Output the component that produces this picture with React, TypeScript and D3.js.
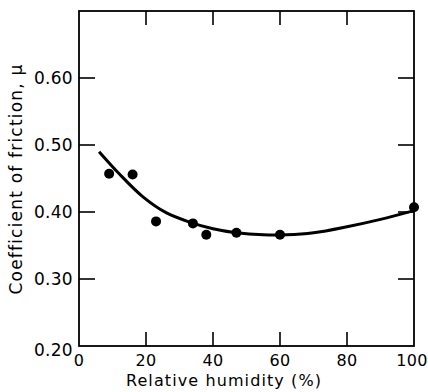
import React from "react";
import * as d3 from "d3";

const humidity = [9, 16, 23, 34, 38, 47, 60, 100];
const friction = [0.457, 0.456, 0.386, 0.383, 0.366, 0.369, 0.366, 0.407];

const curveHumidity = [6, 12, 19, 26, 33, 40, 47, 55, 62, 70, 80, 90, 100];
const curveFriction = [0.49, 0.457, 0.423, 0.399, 0.385, 0.375, 0.369, 0.366, 0.366, 0.369, 0.378, 0.389, 0.402];

const xTicks = [0, 20, 40, 60, 80, 100];
const yTicks = [0.2, 0.3, 0.4, 0.5, 0.6];

const W = 428;
const H = 392;
const left = 79, right = 414, top = 11, bottom = 346;

export default function App() {
  const x = d3.scaleLinear().domain([0, 100]).range([left, right]);
  const y = d3.scaleLinear().domain([0.2, 0.7]).range([bottom, top]);
  const line = d3
    .line<number>()
    .x((_, i) => x(curveHumidity[i]))
    .y((d) => y(d))
    .curve(d3.curveCatmullRom.alpha(0.5));
  const font = "'DejaVu Sans', sans-serif";
  const tl = 14;
  return (
    <svg width={W} height={H} style={{ position: "absolute", left: 0, top: 0, background: "#fff" }} fontFamily={font}>
      <rect x={left} y={top} width={right - left} height={bottom - top} fill="none" stroke="#000" strokeWidth={1.8} />
      {xTicks.filter((t) => t > 0 && t < 100).map((t) => (
        <g key={"xt" + t}>
          <line x1={x(t)} x2={x(t)} y1={bottom} y2={bottom - tl} stroke="#000" strokeWidth={1.6} />
          <line x1={x(t)} x2={x(t)} y1={top} y2={top + tl} stroke="#000" strokeWidth={1.6} />
        </g>
      ))}
      {yTicks.filter((t) => t > 0.2).map((t) => (
        <g key={"yt" + t}>
          <line x1={left} x2={left + 16} y1={y(t)} y2={y(t)} stroke="#000" strokeWidth={1.6} />
          <line x1={right} x2={right - 16} y1={y(t)} y2={y(t)} stroke="#000" strokeWidth={1.6} />
        </g>
      ))}
      {xTicks.map((t) => (
        <text key={"xl" + t} x={t === 100 ? x(t) - 2 : x(t)} y={366} fontSize={16} textAnchor="middle" letterSpacing={0.3}>
          {t}
        </text>
      ))}
      {yTicks.map((t) => (
        <text key={"yl" + t} x={73} y={y(t) + (t === 0.2 ? 10 : 6)} fontSize={17} textAnchor="end" letterSpacing={0.3}>
          {t.toFixed(2)}
        </text>
      ))}
      <text x={224} y={386} fontSize={16} textAnchor="middle" letterSpacing={1.1}>
        Relative humidity (%)
      </text>
      <text
        transform={`translate(22,179) rotate(-90)`}
        fontSize={17}
        textAnchor="middle"
        letterSpacing={1.2}
      >
        Coefficient of friction, μ
      </text>
      <path d={line(curveFriction) || ""} fill="none" stroke="#000" strokeWidth={3} />
      {humidity.map((h, i) => (
        <circle key={"p" + i} cx={x(h)} cy={y(friction[i])} r={5} fill="#000" />
      ))}
    </svg>
  );
}
